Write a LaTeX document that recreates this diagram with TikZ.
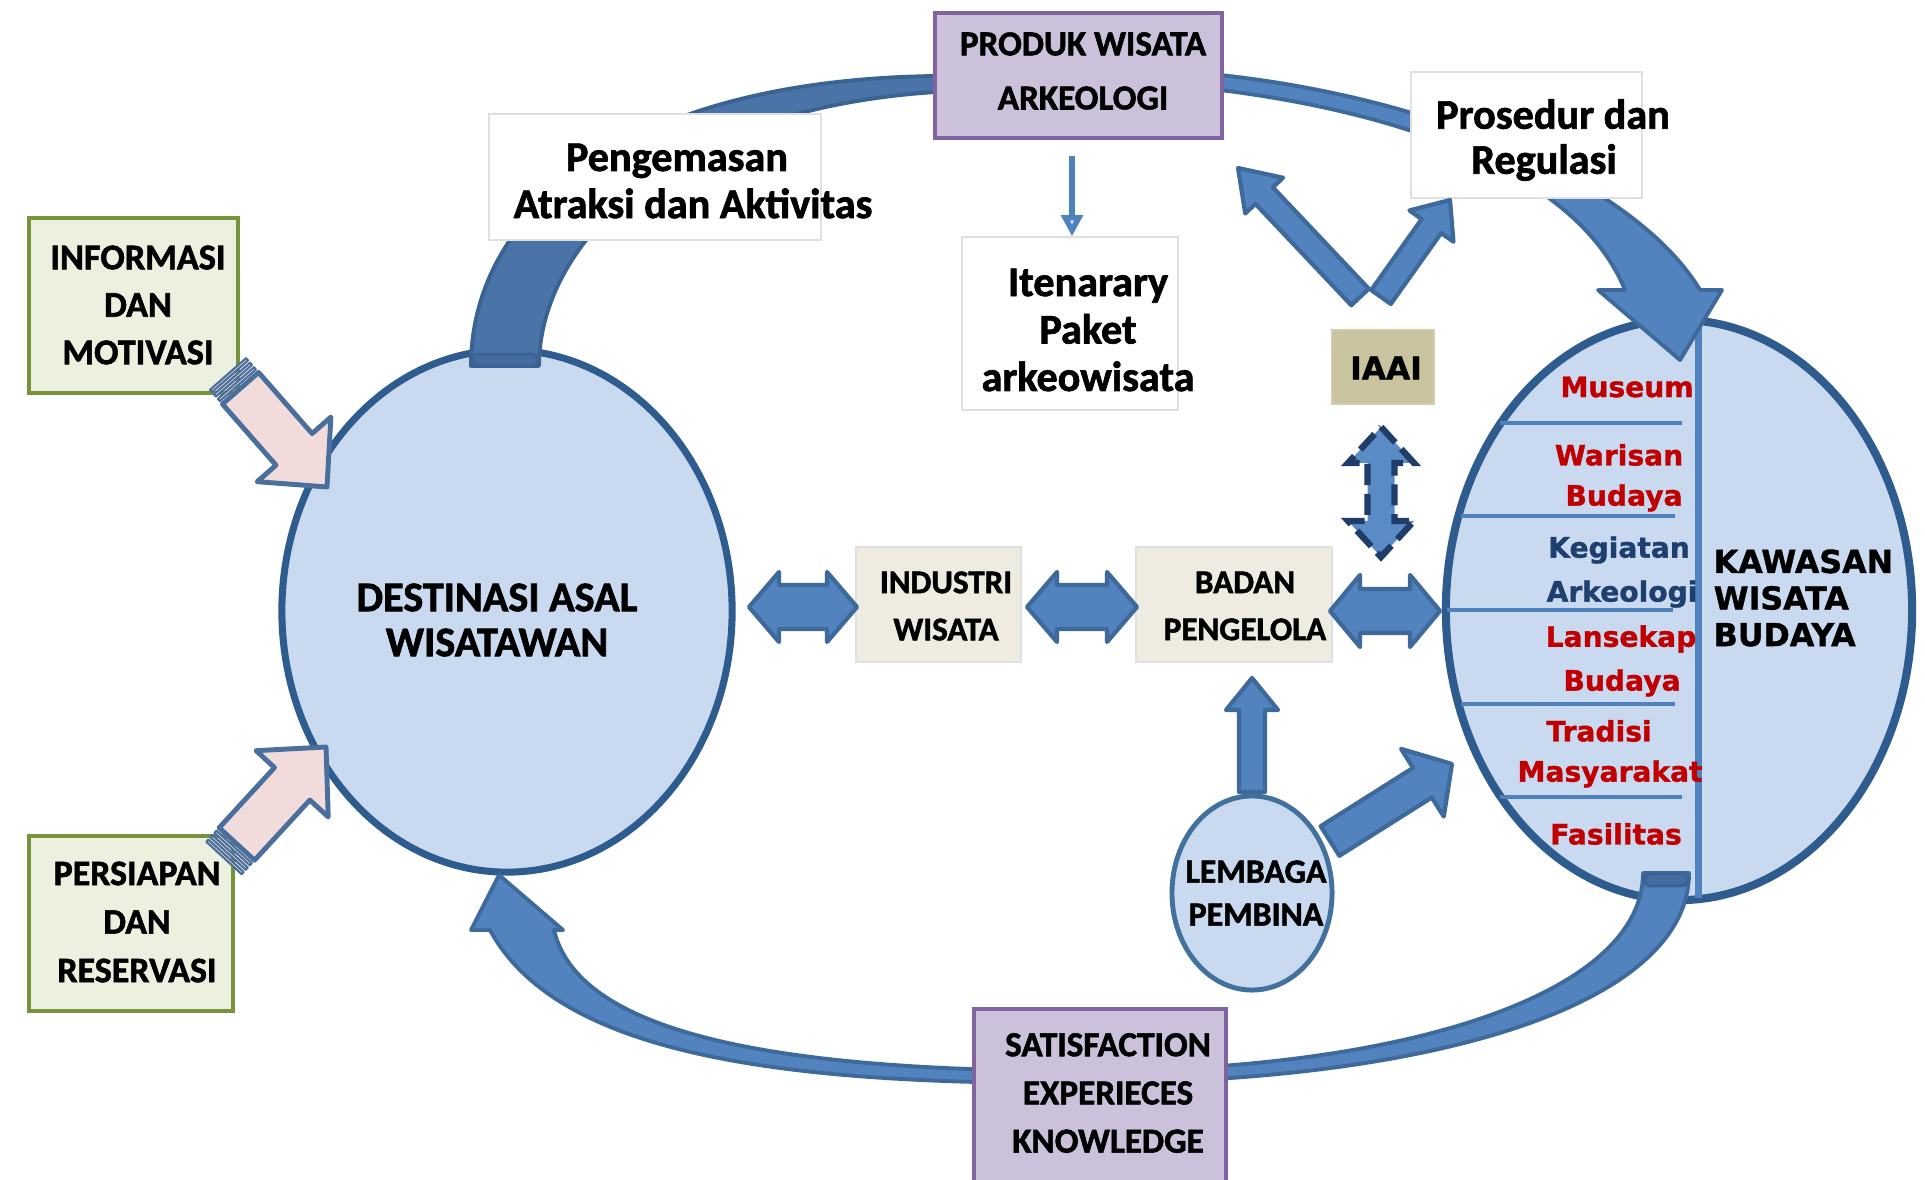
\documentclass[tikz,border=0pt]{standalone}
\usepackage{fontspec}
\setmainfont{Carlito}[BoldFeatures={FakeBold=1.6}]
\newfontfamily\dvsans{DejaVu Sans}[BoldFeatures={FakeBold=1.2}]
\usetikzlibrary{shapes.geometric,arrows.meta,calc}

\definecolor{ellfill}{HTML}{C9DAF0}
\definecolor{ellline}{HTML}{2E5C8E}
\definecolor{lemline}{HTML}{41719C}
\definecolor{arrowfill}{HTML}{5283BF}
\definecolor{arrowline}{HTML}{3D6A9B}
\definecolor{arcdark}{HTML}{4A74A7}
\definecolor{arcdarkline}{HTML}{3A6393}
\definecolor{capcol}{HTML}{456C9E}
\definecolor{purplefill}{HTML}{CCC1DA}
\definecolor{purpleline}{HTML}{8064A2}
\definecolor{greenfill}{HTML}{EBF1DE}
\definecolor{greenline}{HTML}{77933C}
\definecolor{beige}{HTML}{EEECE1}
\definecolor{khaki}{HTML}{C9C39F}
\definecolor{pinkfill}{HTML}{F2DCDB}
\definecolor{pinkline}{HTML}{4B6F9C}
\definecolor{redtext}{HTML}{C00000}
\definecolor{navytext}{HTML}{1F3F6E}
\definecolor{dashline}{HTML}{1F3D68}
\definecolor{dashfill}{HTML}{5B8BC6}
\definecolor{divider}{HTML}{4F81BD}

% block arrow: style, tail x,y, tip x,y, shaft half width, head half width, head length
\newcommand\blockarrow[8]{%
  \pgfmathsetmacro\baang{atan2(#5-#3,#4-#2)}%
  \pgfmathsetmacro\balen{veclen(#4-#2,#5-#3)}%
  \begin{scope}[shift={(#2,#3)},rotate=-\baang]
    \draw[#1] (0,-#6) -- (\balen-#8,-#6) -- (\balen-#8,-#7) -- (\balen,0)
      -- (\balen-#8,#7) -- (\balen-#8,#6) -- (0,#6) -- cycle;
  \end{scope}}
% double-headed block arrow
\newcommand\dblarrow[8]{%
  \pgfmathsetmacro\baang{atan2(#5-#3,#4-#2)}%
  \pgfmathsetmacro\balen{veclen(#4-#2,#5-#3)}%
  \begin{scope}[shift={(#2,#3)},rotate=-\baang]
    \draw[#1] (0,0) -- (#8,-#7) -- (#8,-#6) -- (\balen-#8,-#6) -- (\balen-#8,-#7)
      -- (\balen,0) -- (\balen-#8,#7) -- (\balen-#8,#6) -- (#8,#6) -- (#8,#7) -- cycle;
  \end{scope}}
% block arrow with thin stripes at its tail
\newcommand\stripearrow[8]{%
  \pgfmathsetmacro\baang{atan2(#5-#3,#4-#2)}%
  \pgfmathsetmacro\balen{veclen(#4-#2,#5-#3)}%
  \begin{scope}[shift={(#2,#3)},rotate=-\baang]
    \draw[#1, line width=0.6pt] (0,-#6) rectangle (3,#6);
    \draw[#1, line width=0.6pt] (6,-#6) rectangle (9,#6);
    \draw[#1, line width=0.6pt] (12,-#6) rectangle (15,#6);
    \draw[#1] (19,-#6) -- (\balen-#8,-#6) -- (\balen-#8,-#7) -- (\balen,0)
      -- (\balen-#8,#7) -- (\balen-#8,#6) -- (19,#6) -- cycle;
  \end{scope}}

\tikzset{
  lbl/.style={inner sep=0pt, align=center},
  cal/.style 2 args={font=\fontsize{#1}{#2}\selectfont\bfseries},
  dv/.style 2 args={font=\dvsans\fontsize{#1}{#2}\selectfont\bfseries},
  purplebox/.style={draw=purpleline, fill=purplefill, line width=1.1pt, inner sep=0pt},
  greenbox/.style={draw=greenline, fill=greenfill, line width=1.1pt, inner sep=0pt},
  whitebox/.style={draw=black!12, fill=white, line width=0.4pt, inner sep=0pt},
  beigebox/.style={draw=black!12, fill=beige, line width=0.4pt, inner sep=0pt},
  arcband/.style={fill=arrowfill, draw=arrowline, line width=1.1pt, line join=round},
  barrow/.style={fill=arrowfill, draw=arrowline, line width=1.2pt, line join=round},
  dasharrow/.style={fill=dashfill, draw=dashline, line width=1.8pt, dash pattern=on 6pt off 2.5pt},
  pinkarrow/.style={fill=pinkfill, draw=pinkline, line width=1.4pt, line join=round},
  item/.style={lbl, dv={8}{9}, text=redtext},
  itemnavy/.style={lbl, dv={8}{9}, text=navytext},
}

\begin{document}
\begin{tikzpicture}[x=0.01cm, y=-0.01cm]
\useasboundingbox (0,0) rectangle (1925,1180);
\fill[white] (0,0) rectangle (1925,1180);

% origin and destination areas
\node[ellipse, draw=ellline, line width=2pt, fill=ellfill, minimum width=4.5cm, minimum height=5.22cm] (dest) at (507,611) {};
\node[ellipse, draw=ellline, line width=2.3pt, fill=ellfill, minimum width=4.66cm, minimum height=5.8cm] (kawasan) at (1679,610) {};
\draw[divider, line width=2pt] (1698,326) -- (1698,898);
\foreach \ya/\xa/\xb in {423/1500/1682, 516/1461/1675, 610/1447/1673, 704/1461/1675, 797/1500/1682}
  \draw[divider, line width=0.9pt] (\xa,\ya) -- (\xb,\ya);
\node[ellipse, draw=lemline, line width=1.4pt, fill=ellfill, minimum width=1.6cm, minimum height=1.94cm] (lembaga) at (1252,893) {};

% the big curved arrows of the cycle
\draw[fill=arcdark, draw=arcdarkline, line width=1.1pt, line join=round]
  (471,366) .. controls (471,215) and (620,80) .. (936,76) -- (936,92)
  .. controls (660,110) and (539,250) .. (539,366) -- cycle;
\draw[fill=capcol, draw=arcdarkline, line width=0.8pt, rounded corners=2pt] (472,354) rectangle (538,366);
\draw[arcband] (1220,75) .. controls (1450,100) and (1640,190) .. (1700,290)
  -- (1722,290) -- (1680,360) -- (1598,290) -- (1625,290)
  .. controls (1580,180) and (1420,115) .. (1220,90) -- cycle;
\draw[arcband] (490,930) .. controls (560,1060) and (800,1085) .. (1100,1083)
  .. controls (1450,1080) and (1689,1000) .. (1689,873) -- (1643,873)
  .. controls (1643,990) and (1420,1068) .. (1100,1071)
  .. controls (800,1072) and (580,1040) .. (554,930) -- (563,930) -- (499,875) -- (471,930) -- cycle;
\draw[fill=capcol, draw=arcdarkline, line width=0.8pt, rounded corners=2pt] (1644,874) rectangle (1688,886);

% boxes
\node[purplebox, minimum width=2.87cm, minimum height=1.25cm] (produk) at (1078.5,75.5) {};
\node[purplebox, minimum width=2.52cm, minimum height=1.76cm] (satis) at (1100,1097) {};
\node[greenbox, minimum width=2.09cm, minimum height=1.75cm] (info) at (133.5,305.5) {};
\node[greenbox, minimum width=2.04cm, minimum height=1.75cm] (pers) at (131,923.5) {};
\node[whitebox, minimum width=3.32cm, minimum height=1.26cm] (peng) at (655,177) {};
\node[whitebox, minimum width=2.31cm, minimum height=1.26cm] (pros) at (1526.5,135) {};
\node[whitebox, minimum width=2.16cm, minimum height=1.73cm] (iten) at (1070,323.5) {};
\node[draw=khaki!85!white, fill=khaki, line width=0.4pt, inner sep=0pt, minimum width=1.02cm, minimum height=0.74cm] (iaai) at (1383,367) {};
\node[beigebox, minimum width=1.65cm, minimum height=1.15cm] (ind) at (938.5,604.5) {};
\node[beigebox, minimum width=1.96cm, minimum height=1.15cm] (badan) at (1234,604.5) {};

% labels
\node[lbl, cal={10}{15.4}] (produkT) at (1083,71) {PRODUK WISATA\\ARKEOLOGI};
\node[lbl, cal={10}{13.7}] (satisT) at (1108,1093) {SATISFACTION\\EXPERIECES\\KNOWLEDGE};
\node[lbl, cal={10.3}{13.5}] (infoT) at (138,305) {INFORMASI\\DAN\\MOTIVASI};
\node[lbl, cal={10.2}{13.8}] (persT) at (137,922) {PERSIAPAN\\DAN\\RESERVASI};
\node[lbl, cal={12}{13.4}] (pengT) at (693,181) {Pengemasan\hspace*{0.32cm}\\Atraksi dan Aktivitas};
\node[lbl, cal={12}{12.8}] (prosT) at (1553,140) {Prosedur dan\\Regulasi\hspace*{0.18cm}};
\node[lbl, cal={12}{13.5}] (itenT) at (1088,330) {Itenarary\\Paket\\arkeowisata};
\node[lbl, dv={8.9}{10}] (iaaiT) at (1386,368) {IAAI};
\node[lbl, cal={9.4}{13.4}] (indT) at (946,606) {INDUSTRI\\WISATA};
\node[lbl, cal={9.4}{13.4}] (badanT) at (1245,606) {BADAN\\PENGELOLA};
\node[lbl, cal={9.6}{12.2}] (lembagaT) at (1256,893) {LEMBAGA\\PEMBINA};
\node[lbl, cal={12}{12.8}] (destT) at (497,620) {DESTINASI ASAL\\WISATAWAN};
\node[lbl, dv={9}{10.4}, anchor=west, align=left] (kawasanT) at (1713,598) {KAWASAN\\WISATA\\BUDAYA};

\node[item] (museum) at (1627,387) {Museum};
\node[item] (warisan) at (1619,455) {Warisan};
\node[item] (budaya1) at (1624,498) {Budaya};
\node[itemnavy] (kegiatan) at (1619,550) {Kegiatan};
\node[itemnavy] (arkeologi) at (1622,594) {Arkeologi};
\node[item] (lansekap) at (1621,639) {Lansekap};
\node[item] (budaya2) at (1622,683) {Budaya};
\node[item] (tradisi) at (1599,731) {Tradisi};
\node[item] (masyarakat) at (1610,774) {Masyarakat};
\node[item] (fasilitas) at (1616,834) {Fasilitas};

% thin arrow from the product to the itinerary
\coordinate (pa) at (1072,156);
\draw[divider, line width=1.5pt, -{Triangle[length=6pt,width=6pt,fill=ellfill]}] (pa) -- (pa |- iten.north);

% block arrows
\blockarrow{barrow}{1360}{297}{1238}{168}{12}{26}{38}
\blockarrow{barrow}{1381}{297}{1450}{200}{12}{27}{32}
\blockarrow{barrow}{1252}{792}{1252}{678}{13}{26}{32}
\blockarrow{barrow}{1330}{841}{1452}{764}{17.5}{40}{35}
\dblarrow{barrow}{749}{607}{857}{607}{22}{35}{30}
\dblarrow{barrow}{1027}{607}{1137}{607}{22}{35}{30}
\dblarrow{barrow}{1330}{611}{1440}{611}{22}{36}{30}
\dblarrow{dasharrow}{1381}{427}{1381}{557}{13.5}{33}{36}
\stripearrow{pinkarrow}{228}{374}{327}{487}{24}{49}{50}
\stripearrow{pinkarrow}{224}{858}{326}{747}{24}{49}{50}
\end{tikzpicture}
\end{document}
